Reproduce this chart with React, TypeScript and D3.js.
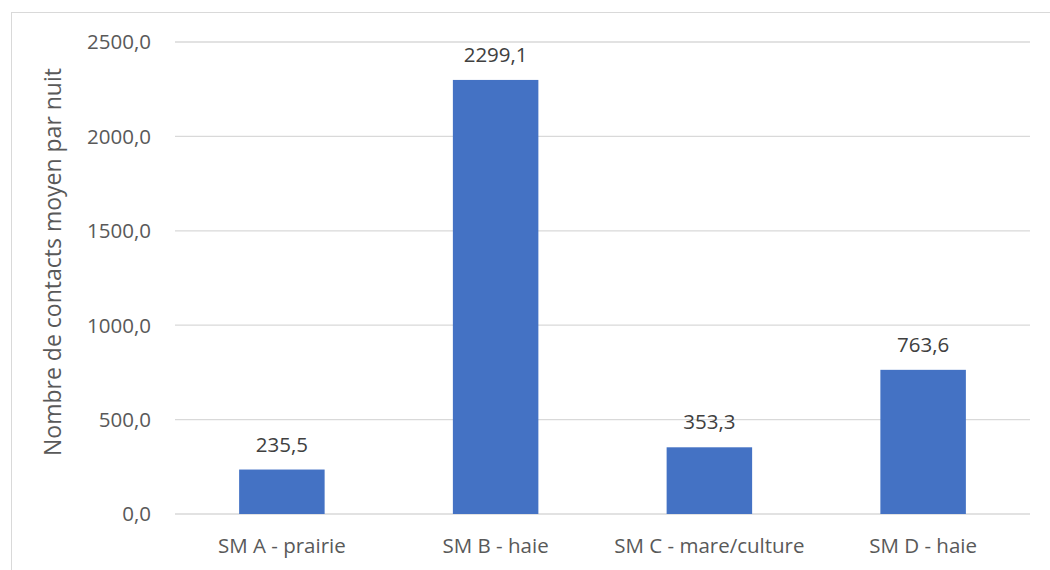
import React from 'react';
import * as d3 from 'd3';

const categories = ['SM A - prairie', 'SM B - haie', 'SM C - mare/culture', 'SM D - haie'];
const values = [235.5, 2299.1, 353.3, 763.6];
const yTicks = [0, 500, 1000, 1500, 2000, 2500];
const yTitle = 'Nombre de contacts moyen par nuit';

const width = 1050;
const height = 570;
const plot = { left: 175, right: 1030, top: 42, bottom: 514 };
const font = '"Open Sans", sans-serif';
const textColor = '#595959';

const fmt = (v: number) => v.toFixed(1).replace('.', ',');

const App = () => {
  const x = d3
    .scaleBand<string>()
    .domain(categories)
    .range([plot.left, plot.right])
    .paddingInner(0.6)
    .paddingOuter(0.3);

  const y = d3.scaleLinear().domain([0, 2500]).range([plot.bottom, plot.top]);

  return (
    <svg
      width={width}
      height={height}
      style={{ position: 'absolute', left: 0, top: 0, background: '#fff' }}
    >
      {/* chart frame, cut off on the right and bottom */}
      <rect x={11.5} y={12.5} width={1060} height={580} fill="#fff" stroke="#d9d9d9" />

      {yTicks.map((t) => (
        <g key={t}>
          <line
            x1={plot.left}
            x2={plot.right}
            y1={y(t)}
            y2={y(t)}
            stroke="#d9d9d9"
            strokeWidth={1.3}
          />
          <text
            x={151}
            y={y(t)}
            dy="0.36em"
            textAnchor="end"
            fontFamily={font}
            fontSize={20.5}
            fill={textColor}
          >
            {fmt(t)}
          </text>
        </g>
      ))}

      {categories.map((c, i) => (
        <g key={c}>
          <rect
            x={x(c)}
            y={y(values[i])}
            width={x.bandwidth()}
            height={y(0) - y(values[i])}
            fill="#4472c4"
          />
          <text
            x={(x(c) ?? 0) + x.bandwidth() / 2}
            y={y(values[i]) - 18}
            textAnchor="middle"
            fontFamily={font}
            fontSize={20.5}
            fill="#404040"
          >
            {fmt(values[i])}
          </text>
          <text
            x={(x(c) ?? 0) + x.bandwidth() / 2}
            y={553}
            textAnchor="middle"
            fontFamily={font}
            fontSize={20.5}
            fill={textColor}
          >
            {c}
          </text>
        </g>
      ))}

      <text
        transform={`translate(61,262) rotate(-90)`}
        textAnchor="middle"
        fontFamily={font}
        fontSize={23}
        fill={textColor}
      >
        {yTitle}
      </text>
    </svg>
  );
};

export default App;
